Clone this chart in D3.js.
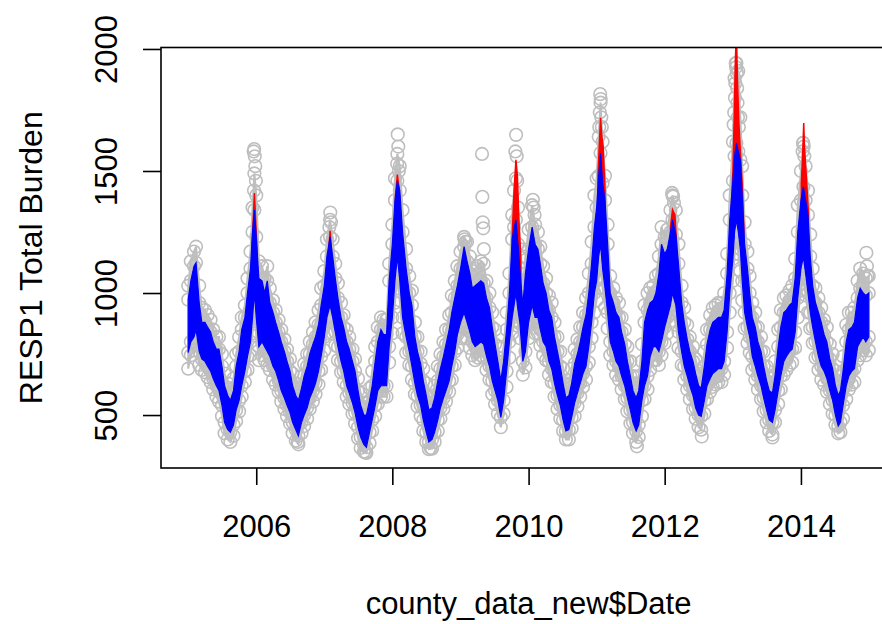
<!DOCTYPE html>
<html>
<head>
<meta charset="utf-8">
<script src="https://cdn.jsdelivr.net/npm/d3@7"></script>
<style>
  body { margin: 0; background: #fff; }
  svg text { font-family: "Liberation Sans", Arial, Helvetica, sans-serif; font-size: 31px; fill: #000; }
</style>
</head>
<body>
<svg id="chart" width="882" height="624"></svg>
<script>
// Sampling dates (roughly twice a month, denser around winter peaks)
const dates = [
  "2005-01-01","2005-01-15","2005-02-01","2005-02-12","2005-03-01","2005-03-15","2005-04-01","2005-04-15","2005-05-01","2005-05-15","2005-06-01","2005-06-15","2005-07-01","2005-07-15","2005-08-01","2005-08-15","2005-09-01","2005-09-15","2005-10-01","2005-10-15","2005-11-01","2005-11-15","2005-12-01","2005-12-12","2005-12-22",
  "2006-01-01","2006-01-15","2006-02-01","2006-02-15","2006-03-01","2006-03-15","2006-04-01","2006-04-15","2006-05-01","2006-05-15","2006-06-01","2006-06-15","2006-07-01","2006-07-15","2006-08-01","2006-08-15","2006-09-01","2006-09-15","2006-10-01","2006-10-15","2006-11-01","2006-11-15","2006-12-01","2006-12-15",
  "2007-01-01","2007-01-15","2007-02-01","2007-02-15","2007-03-01","2007-03-15","2007-04-01","2007-04-15","2007-05-01","2007-05-15","2007-06-01","2007-06-15","2007-07-01","2007-07-15","2007-08-01","2007-08-15","2007-09-01","2007-09-15","2007-10-01","2007-10-15","2007-11-01","2007-11-15","2007-12-01","2007-12-15",
  "2008-01-01","2008-01-15","2008-01-28","2008-02-10","2008-02-25","2008-03-15","2008-04-01","2008-04-15","2008-05-01","2008-05-15","2008-06-01","2008-06-15","2008-07-01","2008-07-15","2008-08-01","2008-08-15","2008-09-01","2008-09-15","2008-10-01","2008-10-15","2008-11-01","2008-11-15","2008-12-01","2008-12-15",
  "2009-01-01","2009-01-20","2009-02-05","2009-02-20","2009-03-05","2009-03-20","2009-04-05","2009-04-20","2009-05-05","2009-05-20","2009-06-05","2009-06-20","2009-07-05","2009-07-20","2009-08-05","2009-08-20","2009-09-05","2009-09-20","2009-10-05","2009-10-15","2009-10-25","2009-11-05","2009-11-15","2009-12-01","2009-12-15",
  "2010-01-01","2010-01-20","2010-02-05","2010-02-20","2010-03-05","2010-03-20","2010-04-05","2010-04-20","2010-05-05","2010-05-20","2010-06-05","2010-06-20","2010-07-05","2010-07-20","2010-08-05","2010-08-20","2010-09-05","2010-09-20","2010-10-05","2010-10-20","2010-11-05","2010-11-20","2010-12-05","2010-12-20",
  "2011-01-01","2011-01-12","2011-01-22","2011-02-02","2011-02-15","2011-03-01","2011-03-15","2011-04-01","2011-04-15","2011-05-01","2011-05-15","2011-06-01","2011-06-15","2011-07-01","2011-07-15","2011-08-01","2011-08-15","2011-09-01","2011-09-15","2011-10-01","2011-10-15","2011-11-01","2011-11-15","2011-12-01","2011-12-15",
  "2012-01-01","2012-01-15","2012-02-01","2012-02-12","2012-03-01","2012-03-15","2012-04-01","2012-04-15","2012-05-01","2012-05-15","2012-06-01","2012-06-15","2012-07-01","2012-07-15","2012-08-01","2012-08-15","2012-09-01","2012-09-15","2012-10-01","2012-10-15","2012-11-01","2012-11-15","2012-12-01","2012-12-15",
  "2013-01-01","2013-01-10","2013-01-20","2013-01-30","2013-02-10","2013-02-20","2013-03-05","2013-03-20","2013-04-01","2013-04-15","2013-05-01","2013-05-15","2013-06-01","2013-06-15","2013-07-01","2013-07-15","2013-08-01","2013-08-15","2013-09-01","2013-09-15","2013-10-01","2013-10-15","2013-11-01","2013-11-15","2013-12-01","2013-12-15",
  "2014-01-01","2014-01-14","2014-01-26","2014-02-08","2014-02-20","2014-03-05","2014-03-20","2014-04-05","2014-04-20","2014-05-05","2014-05-20","2014-06-05","2014-06-20","2014-07-05","2014-07-20","2014-08-01","2014-08-15","2014-09-01","2014-09-15","2014-10-01","2014-10-15","2014-11-01","2014-11-15","2014-12-01","2014-12-15","2014-12-31"
];

// Fitted burden (blue): daily low / high of the weekly swing
const fitLow = [
  756,800,820,850,760,730,720,700,680,650,620,600,540,470,440,430,460,520,560,620,680,740,800,900,1000,
  900,780,800,780,760,740,700,680,640,600,570,540,510,470,440,415,470,500,530,570,600,630,680,740,
  820,900,950,900,840,780,720,680,620,590,550,510,450,410,380,368,430,480,540,600,620,620,620,780,
  900,1050,1150,1050,900,820,760,700,630,580,540,480,430,390,400,430,480,530,570,600,640,700,760,830,
  880,920,880,840,800,780,790,800,790,740,700,640,600,560,490,560,680,800,900,950,1000,930,880,720,760,
  880,950,900,900,850,800,780,720,690,630,580,540,480,435,440,490,550,590,630,670,700,780,880,1000,
  1050,1150,1200,1100,1020,920,800,760,720,700,660,620,570,520,470,435,460,560,620,660,740,780,780,760,800,
  860,900,950,1000,950,840,760,700,660,620,580,530,500,495,560,620,650,670,680,690,690,720,840,1000,
  1140,1250,1300,1250,1180,1050,920,860,820,740,700,660,620,570,520,480,470,520,600,660,720,740,760,770,840,980,
  1100,1150,1080,1000,920,860,800,740,700,680,650,600,560,500,455,470,540,620,660,680,690,780,800,820,800,820
];
const fitHigh = [
  973,1050,1110,1124,960,880,880,860,840,800,770,770,700,620,580,560,600,700,760,850,900,1000,1100,1250,1340,
  1230,1060,1050,1000,1050,960,920,880,840,800,760,720,680,620,580,560,610,660,700,750,790,820,870,950,
  1030,1150,1230,1150,1060,980,900,860,800,770,720,680,600,540,500,500,560,620,720,800,850,830,830,1050,
  1200,1380,1460,1420,1250,1100,1000,950,820,760,710,640,580,520,530,570,640,690,740,790,850,920,980,1030,
  1100,1190,1130,1080,1020,1030,1040,1050,1040,980,940,860,790,720,640,720,850,1000,1220,1270,1300,1200,1100,950,1080,
  1180,1270,1200,1180,1120,1040,1000,930,900,820,760,700,630,570,580,630,710,750,800,860,910,1000,1120,1270,
  1350,1480,1574,1450,1380,1200,1000,960,920,900,840,790,720,660,600,570,600,720,880,930,960,970,1000,1080,1200,
  1160,1180,1250,1300,1240,1120,960,880,810,760,720,670,620,610,700,790,850,880,890,900,900,930,1080,1300,
  1460,1560,1615,1580,1546,1400,1200,1100,1000,900,860,800,760,700,640,600,590,660,780,860,920,930,950,960,1060,1250,
  1380,1435,1380,1320,1150,1030,960,920,880,830,800,730,690,620,580,600,680,800,850,860,880,980,1020,1000,990,1000
];

// Observed daily counts (grey circles): lower / upper spread around the fit
const obsLow = [
  690,745,765,785,705,685,675,655,635,605,575,555,495,425,400,390,415,475,515,575,635,685,745,835,920,
  825,725,745,725,705,685,645,625,595,555,525,495,465,425,395,380,425,455,485,525,555,585,625,685,
  765,835,885,835,785,725,675,635,575,545,505,465,405,365,350,345,385,435,495,545,575,575,575,715,
  835,960,1060,970,835,755,705,645,585,535,495,435,390,360,362,390,435,485,525,555,595,645,705,775,
  815,855,815,775,745,725,735,745,735,685,645,585,545,505,450,505,615,735,835,885,920,865,815,665,695,
  815,875,835,835,785,745,725,665,635,575,525,485,435,400,400,445,495,535,575,615,645,715,815,920,
  970,1060,1110,1020,940,855,745,705,665,645,605,565,515,465,425,390,410,495,565,605,685,725,725,705,745,
  795,835,885,920,870,775,705,645,605,565,525,485,450,440,505,565,595,615,625,635,635,665,775,920,
  1050,1160,1210,1160,1090,970,855,795,755,685,645,605,565,515,470,435,420,470,545,605,665,685,705,715,775,900,
  1010,1060,990,920,855,795,735,685,645,625,595,545,505,460,425,430,485,565,605,625,635,725,745,765,745,765
];
const obsHigh = [
  1030,1130,1170,1190,1030,940,930,910,890,850,820,820,750,670,630,610,650,750,820,900,950,1060,1170,1350,1490,
  1400,1130,1110,1060,1110,1020,970,930,890,850,810,770,730,670,630,610,660,710,750,800,840,880,930,1020,
  1090,1220,1300,1220,1120,1040,960,910,850,820,770,730,650,590,550,550,610,680,780,860,900,890,890,1120,
  1280,1470,1570,1520,1340,1180,1070,1010,880,820,760,690,630,570,580,620,700,750,800,850,910,990,1050,1110,
  1170,1230,1210,1150,1090,1100,1110,1130,1120,1050,1000,920,850,780,700,780,920,1080,1320,1420,1470,1350,1180,1020,1150,
  1260,1360,1280,1250,1190,1110,1060,990,960,880,820,760,690,630,640,690,770,810,860,920,980,1080,1210,1400,
  1470,1640,1780,1620,1480,1280,1070,1020,980,960,900,850,780,720,660,630,660,790,950,1000,1020,1030,1070,1150,1270,
  1230,1260,1340,1400,1340,1200,1030,940,870,820,780,730,680,670,760,850,910,940,950,960,960,1000,1160,1400,
  1620,1880,1942,1910,1720,1520,1290,1170,1070,960,920,860,820,760,700,660,650,720,850,930,980,990,1010,1030,1140,1360,
  1500,1615,1520,1420,1240,1100,1020,980,940,890,860,790,750,680,640,660,740,870,920,920,940,1050,1100,1080,1060,1070
];

// Individual high / low observed days
const extraDates = [
  "2005-12-18","2005-12-21","2005-12-24","2005-12-27","2005-12-30","2005-12-20",
  "2007-02-02","2007-02-06","2007-01-28",
  "2008-01-30","2008-02-02","2008-01-27","2008-02-05",
  "2009-01-22","2009-01-28",
  "2009-04-26","2009-04-28","2009-04-30","2009-05-03","2009-05-06",
  "2009-10-26","2009-10-22","2009-10-29","2009-11-01",
  "2010-01-24","2010-01-28","2010-02-02",
  "2011-01-20","2011-01-23","2011-01-18","2011-01-26","2011-01-29","2011-01-15",
  "2012-02-10","2012-02-15","2012-02-20",
  "2013-01-16","2013-01-18","2013-01-22","2013-01-14","2013-01-24","2013-01-12","2013-01-26","2013-01-08","2013-01-28","2013-02-02","2013-01-05",
  "2014-01-12","2014-01-16","2014-01-10","2014-01-19",
  "2014-12-18","2014-12-21","2014-12-24",
  "2007-08-08","2011-08-05","2008-07-25","2006-08-12","2012-07-18","2013-08-01"
];
const extraValues = [
  1580,1590,1560,1520,1460,1420,
  1330,1290,1270,
  1650,1600,1530,1500,
  1220,1210,
  1570,1394,1290,1265,1180,
  1648,1580,1560,1460,
  1382,1350,1320,
  1815,1795,1740,1720,1680,1680,
  1410,1395,1370,
  1942,1925,1900,1860,1840,1800,1780,1740,1720,1680,1690,
  1615,1600,1580,1560,
  1165,1110,1070,
  347,372,365,390,412,408
];

// Second model (red): winter peaks where it runs above the blue fit
const redSeason = [
  2006,2006,2006,2006,
  2007,2007,2007,
  2008,2008,2008,2008,
  2009,2009,2009,2009,2009,2009,
  2011,2011,2011,2011,2011,2011,
  2012,2012,2012,2012,
  2013,2013,2013,2013,2013,2013,2013,2013,2013,2013,
  2014,2014,2014,2014,2014,2014
];
const redDates = [
  "2005-12-10","2005-12-22","2005-12-30","2006-01-06",
  "2007-01-25","2007-02-01","2007-02-08",
  "2008-01-18","2008-01-28","2008-02-06","2008-02-15",
  "2009-10-05","2009-10-15","2009-10-25","2009-11-02","2009-11-10","2009-11-20",
  "2011-01-08","2011-01-15","2011-01-22","2011-01-29","2011-02-05","2011-02-15",
  "2012-02-01","2012-02-12","2012-02-25","2012-03-05",
  "2012-12-25","2013-01-01","2013-01-08","2013-01-14","2013-01-20","2013-01-25","2013-02-02","2013-02-10","2013-02-20","2013-03-01",
  "2014-01-03","2014-01-10","2014-01-16","2014-01-20","2014-02-01","2014-02-10"
];
const redLow = [
  1150,1250,1150,1000,
  1100,1150,1100,
  1300,1350,1300,1150,
  1100,1150,1200,1150,1050,1000,
  1300,1380,1450,1400,1350,1250,
  1150,1200,1150,1050,
  1300,1350,1400,1450,1500,1480,1450,1420,1300,1150,
  1300,1350,1350,1300,1250,1150
];
const redHigh = [
  1200,1410,1280,1150,
  1180,1255,1180,
  1400,1485,1430,1300,
  1230,1420,1546,1480,1300,1150,
  1480,1600,1718,1640,1600,1420,
  1270,1341,1320,1200,
  1380,1500,1720,1950,2080,1880,1700,1580,1450,1260,
  1450,1560,1697,1600,1450,1330
];

// Axis ticks
const xTickDates = ["2006-01-01","2008-01-01","2010-01-01","2012-01-01","2014-01-01"];
const xTickLabels = ["2006","2008","2010","2012","2014"];
const yTickValues = [500, 1000, 1500, 2000];

const parse = d3.utcParse("%Y-%m-%d");
const svg = d3.select("#chart");

// Plot region (right edge sits just past the window)
const plotLeft = 161, plotRight = 896, plotTop = 47.5, plotBottom = 468;

const x = d3.scaleUtc()
  .domain([parse("2004-08-08"), parse("2015-05-26")])
  .range([plotLeft, plotRight]);
const y = d3.scaleLinear()
  .domain([283, 2006])
  .range([plotBottom, plotTop]);

svg.append("defs").append("clipPath").attr("id", "plotClip")
  .append("rect").attr("x", plotLeft).attr("y", plotTop)
  .attr("width", plotRight - plotLeft).attr("height", plotBottom - plotTop);

const plot = svg.append("g").attr("clip-path", "url(#plotClip)");

// Dense cloud of overlapping observations between the lower and upper spread
const obsRows = dates.map((d, i) => ({ t: parse(d), lo: obsLow[i], hi: obsHigh[i] }));
plot.append("path")
  .datum(obsRows)
  .attr("d", d3.area().x(d => x(d.t)).y0(d => y(d.lo)).y1(d => y(d.hi)))
  .attr("fill", "#C6C6C6")
  .attr("stroke", "#BEBEBE")
  .attr("stroke-width", 2);

// Grey open circles
const points = [];
dates.forEach((d, i) => {
  const t = parse(d);
  points.push([t, obsLow[i]], [t, obsHigh[i]], [t, fitLow[i]], [t, fitHigh[i]]);
});
extraDates.forEach((d, i) => points.push([parse(d), extraValues[i]]));

plot.append("g")
  .selectAll("circle")
  .data(points)
  .join("circle")
  .attr("cx", d => x(d[0]))
  .attr("cy", d => y(d[1]))
  .attr("r", 6.3)
  .attr("fill", "none")
  .attr("stroke", "#BEBEBE")
  .attr("stroke-width", 1.6);

// Red model
const redRows = redDates.map((d, i) => ({ t: parse(d), lo: redLow[i], hi: redHigh[i], s: redSeason[i] }));
const redArea = d3.area().x(d => x(d.t)).y0(d => y(d.lo)).y1(d => y(d.hi));
plot.append("g")
  .selectAll("path")
  .data(d3.groups(redRows, d => d.s))
  .join("path")
  .attr("d", g => redArea(g[1]))
  .attr("fill", "#FF0000")
  .attr("stroke", "#FF0000")
  .attr("stroke-width", 1.5)
  .attr("stroke-linejoin", "miter");

// Blue fitted band
const fitRows = dates.map((d, i) => ({ t: parse(d), lo: fitLow[i], hi: fitHigh[i] }));
plot.append("path")
  .datum(fitRows)
  .attr("d", d3.area().x(d => x(d.t)).y0(d => y(d.lo)).y1(d => y(d.hi)))
  .attr("fill", "#0000FF")
  .attr("stroke", "#0000FF")
  .attr("stroke-width", 1.2);

// Frame
svg.append("rect")
  .attr("x", plotLeft).attr("y", plotTop)
  .attr("width", plotRight - plotLeft).attr("height", plotBottom - plotTop)
  .attr("fill", "none").attr("stroke", "#000").attr("stroke-width", 1.6);

// X axis
const xAxis = d3.axisBottom(x)
  .tickValues(xTickDates.map(parse))
  .tickFormat((d, i) => xTickLabels[i])
  .tickSize(17)
  .tickPadding(0);
const gx = svg.append("g").attr("transform", `translate(0,${plotBottom})`).call(xAxis);
gx.attr("font-size", null).attr("font-family", null);
gx.select(".domain").remove();
gx.selectAll(".tick line").attr("stroke", "#000").attr("stroke-width", 1.6);
gx.selectAll(".tick text").attr("y", 69).attr("dy", null);

// Y axis (labels parallel to the axis)
const yAxis = d3.axisLeft(y).tickValues(yTickValues).tickFormat(d3.format("d")).tickSize(18);
const gy = svg.append("g").attr("transform", `translate(${plotLeft},0)`).call(yAxis);
gy.attr("font-size", null).attr("font-family", null);
gy.select(".domain").remove();
gy.selectAll(".tick line").attr("stroke", "#000").attr("stroke-width", 1.6);
gy.selectAll(".tick text")
  .attr("x", 0).attr("y", -44).attr("dy", null)
  .attr("text-anchor", "middle")
  .attr("transform", "rotate(-90)");

// Axis titles
svg.append("text")
  .attr("x", (plotLeft + plotRight) / 2).attr("y", 614)
  .attr("text-anchor", "middle")
  .text("county_data_new$Date");
svg.append("text")
  .attr("transform", `translate(42,${(plotTop + plotBottom) / 2}) rotate(-90)`)
  .attr("text-anchor", "middle")
  .style("font-size", "32px")
  .text("RESP1 Total Burden");
</script>
</body>
</html>
